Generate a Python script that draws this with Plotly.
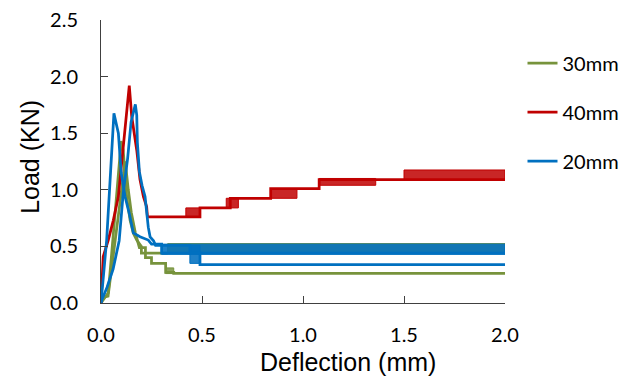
import plotly.graph_objects as go

# ---------------- data ----------------
# 30mm (green) – two specimens
g30a_x = [0, 0.02, 0.036, 0.053, 0.069, 0.086, 0.10, 0.11, 0.119, 0.127, 0.144, 0.16, 0.177, 0.20, 0.20, 0.33]
g30a_y = [0, 0.05, 0.09, 0.44, 0.79, 1.15, 1.43, 1.35, 1.15, 0.94, 0.73, 0.615, 0.556, 0.50, 0.44, 0.44]
g30b_x = [0, 0.01, 0.035, 0.06, 0.09, 0.105, 0.12, 0.135, 0.15, 0.17, 0.19, 0.22, 0.22, 0.25, 0.25, 0.32, 0.32, 0.36, 0.36, 2.0]
g30b_y = [0, 0.05, 0.06, 0.40, 0.85, 1.05, 1.25, 1.00, 0.80, 0.62, 0.49, 0.49, 0.40, 0.40, 0.35, 0.35, 0.27, 0.27, 0.262, 0.262]
g30_bands = [(0.33, 2.0, 0.44, 0.525), (0.32, 0.36, 0.26, 0.31)]

# 40mm (red)
r40_x = [0, 0.011, 0.036, 0.061, 0.086, 0.11, 0.14, 0.152, 0.177, 0.193, 0.21, 0.226, 0.23,
         0.49, 0.49, 0.64, 0.64, 0.84, 0.84, 1.08, 1.08, 2.0]
r40_y = [0, 0.41, 0.556, 0.73, 0.94, 1.35, 1.92, 1.65, 1.35, 1.09, 0.94, 0.85, 0.76,
         0.76, 0.84, 0.84, 0.925, 0.925, 1.01, 1.01, 1.09, 1.09]
r40_bands = [(0.42, 0.49, 0.76, 0.84), (0.62, 0.68, 0.84, 0.925), (0.84, 0.97, 0.925, 1.01),
             (1.08, 1.36, 1.04, 1.10), (1.50, 2.0, 1.09, 1.175)]

# 20mm (blue) – two specimens
b20a_x = [0, 0.005, 0.028, 0.064, 0.086, 0.10, 0.119, 0.14, 0.16, 0.193, 0.234, 0.25, 0.30, 0.30, 2.0]
b20a_y = [0, 0.09, 0.556, 1.675, 1.50, 1.15, 0.94, 0.79, 0.62, 0.585, 0.556, 0.52, 0.52, 0.44, 0.44]
b20b_x = [0, 0.005, 0.03, 0.06, 0.09, 0.11, 0.132, 0.149, 0.17, 0.177, 0.18, 0.19, 0.203, 0.218,
          0.234, 0.243, 0.26, 0.27, 0.44, 0.44, 0.49, 0.49, 2.0]
b20b_y = [0, 0.03, 0.14, 0.30, 0.55, 0.97, 1.28, 1.60, 1.755, 1.66, 1.42, 1.16, 1.04, 0.94,
          0.67, 0.585, 0.55, 0.51, 0.51, 0.44, 0.44, 0.34, 0.34]
b20_bands = [(0.30, 2.0, 0.43, 0.52), (0.44, 0.49, 0.35, 0.51)]

x_ticks = [0.0, 0.5, 1.0, 1.5, 2.0]
y_ticks = [0.0, 0.5, 1.0, 1.5, 2.0, 2.5]

GREEN = "#77933C"
RED = "#C00000"
BLUE = "#0070C0"
FILLS = {GREEN: "rgba(119,147,60,0.85)", RED: "rgba(192,0,0,0.85)", BLUE: "rgba(0,112,192,0.88)"}

fig = go.Figure()


def add_series(name, color, lines, bands):
    first = True
    for bx0, bx1, lo, hi in bands:
        fig.add_trace(go.Scatter(
            x=[bx0, bx1, bx1, bx0, bx0], y=[lo, lo, hi, hi, lo], mode="lines",
            fill="toself", fillcolor=FILLS[color], line=dict(color=color, width=1),
            legendgroup=name, showlegend=False, hoverinfo="skip"))
    for xs, ys in lines:
        fig.add_trace(go.Scatter(
            x=xs, y=ys, mode="lines", name=name, legendgroup=name,
            showlegend=first, line=dict(color=color, width=2.75)))
        first = False


add_series("30mm", GREEN, [(g30a_x, g30a_y), (g30b_x, g30b_y)], g30_bands)
add_series("40mm", RED, [(r40_x, r40_y)], r40_bands)
add_series("20mm", BLUE, [(b20a_x, b20a_y), (b20b_x, b20b_y)], b20_bands)

axis_common = dict(
    showline=True, linecolor="#404040", linewidth=1, ticks="inside", ticklen=7,
    tickcolor="#404040", showgrid=False, zeroline=False, tickformat=".1f",
    tickfont=dict(family="Lato", size=20, color="#000000"),
)

fig.update_layout(
    width=625, height=380,
    margin=dict(l=101, r=120, t=20, b=77, autoexpand=False),
    paper_bgcolor="white", plot_bgcolor="white",
    xaxis=dict(range=[0, 2.0], tickvals=x_ticks, ticklabelstandoff=14, **axis_common),
    yaxis=dict(range=[0, 2.5], tickvals=y_ticks, ticklabelstandoff=18, **axis_common),
    legend=dict(
        xref="container", yref="container", x=0.836, y=0.885, xanchor="left", yanchor="top",
        font=dict(family="Lato", size=20, color="#000000"), tracegroupgap=20,
        bgcolor="rgba(0,0,0,0)", itemwidth=30,
    ),
    annotations=[
        dict(text="Deflection (mm)", xref="paper", yref="paper", x=0.611, y=-0.208,
             xanchor="center", yanchor="middle", showarrow=False,
             font=dict(family="Liberation Sans", size=25, color="#000000")),
        dict(text="Load (KN)", xref="paper", yref="paper", x=-0.176, y=0.516,
             xanchor="center", yanchor="middle", showarrow=False, textangle=-90,
             font=dict(family="Liberation Sans", size=25, color="#000000")),
    ],
    showlegend=True,
)

fig.write_html("out.html")
